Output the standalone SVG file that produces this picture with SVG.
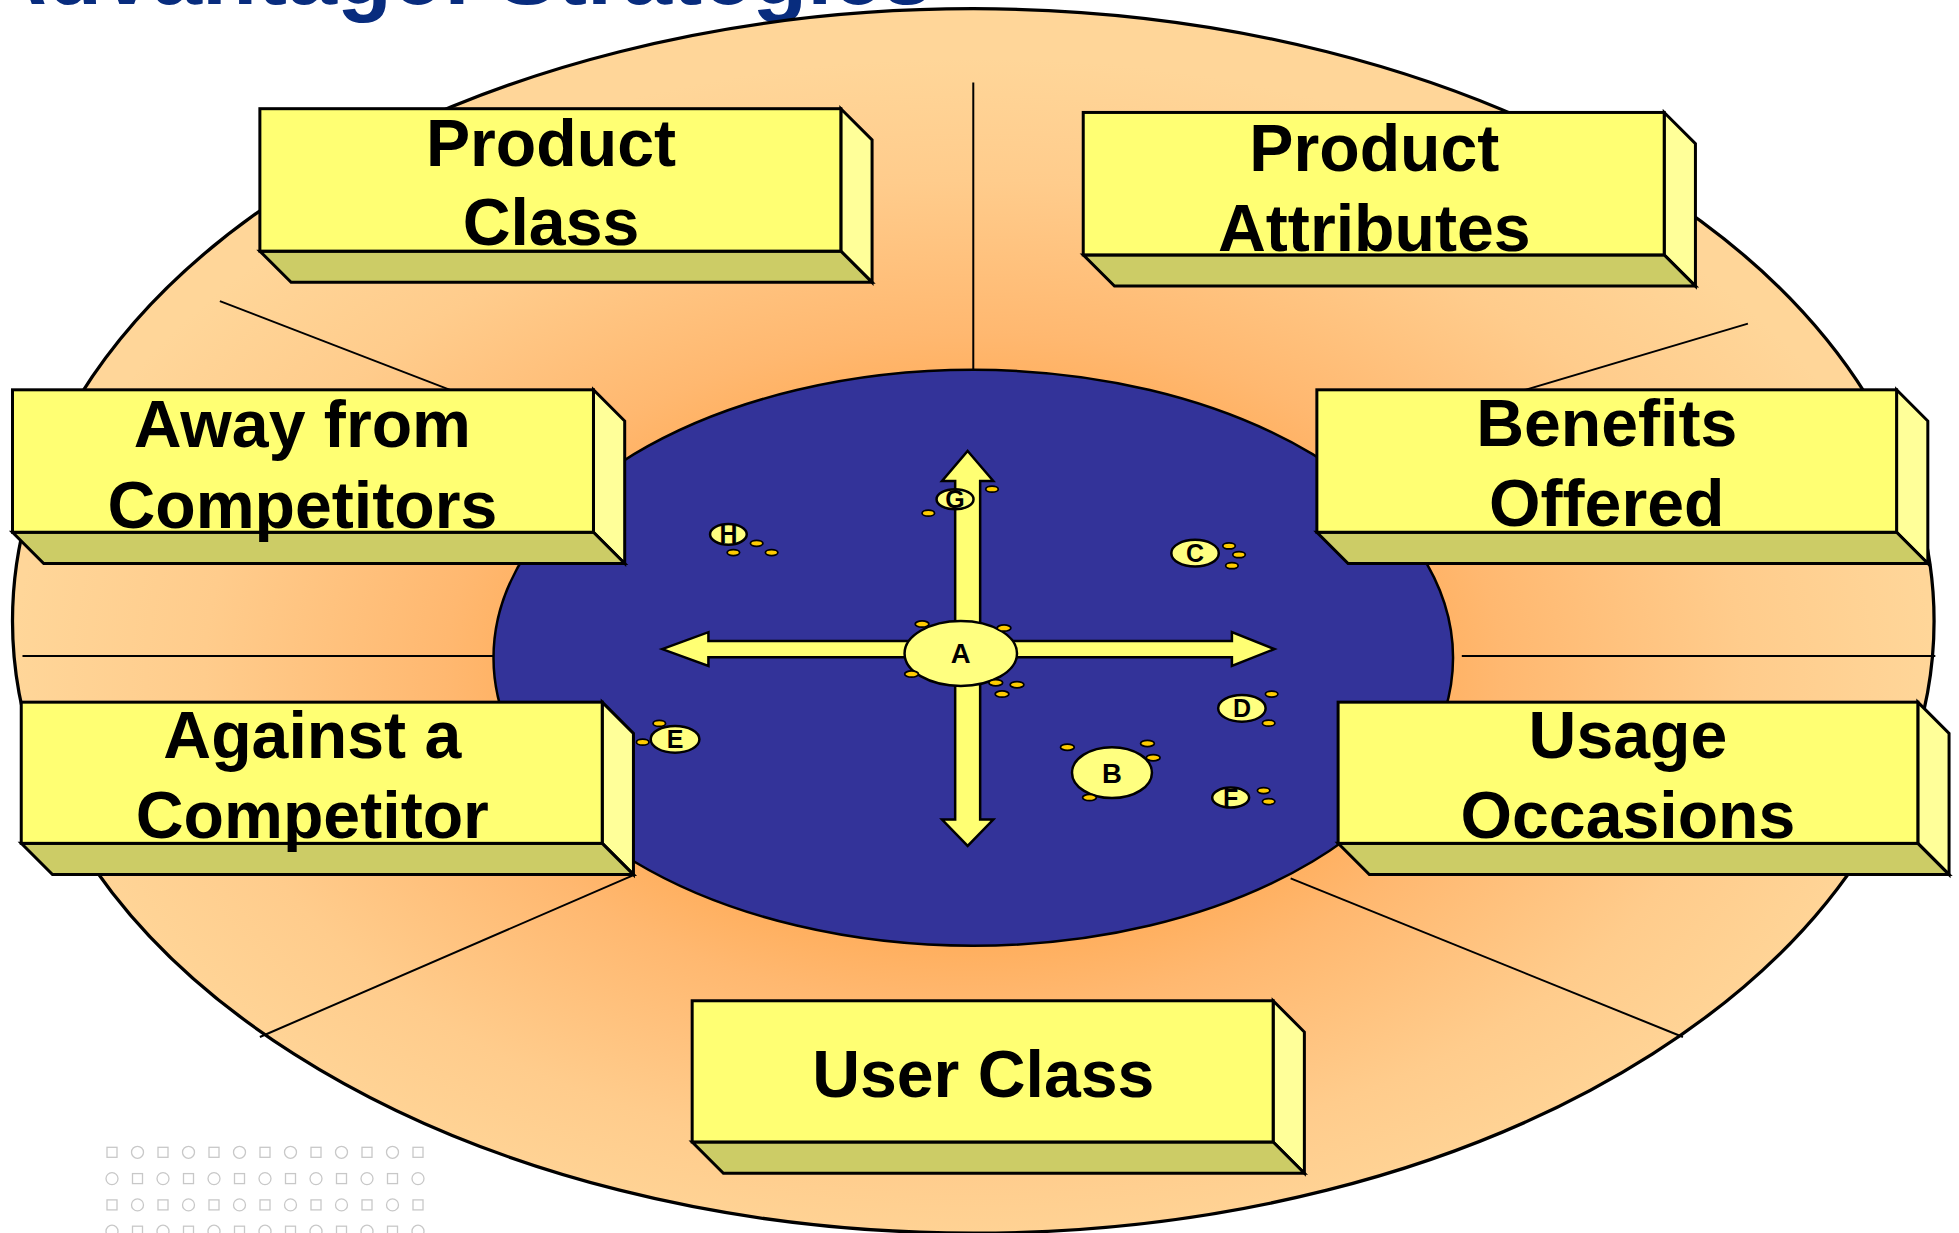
<svg xmlns="http://www.w3.org/2000/svg" width="1959" height="1233" viewBox="0 0 1959 1233">
<defs>
<radialGradient id="halo" cx="0.5" cy="0.54" r="0.5">
<stop offset="0.35" stop-color="#FFA64D"/>
<stop offset="0.55" stop-color="#FFB870"/>
<stop offset="0.8" stop-color="#FFCC8C"/>
<stop offset="1" stop-color="#FFD699"/>
</radialGradient>
<style>
.front{fill:#FFFF73;stroke:#000;stroke-width:2.4}
.side{fill:#FFFF99;stroke:#000;stroke-width:2.4;stroke-linejoin:miter}
.base{fill:#CCCC66;stroke:#000;stroke-width:2.4}
.lbl{font-family:"Liberation Sans",Arial,sans-serif;font-weight:bold;font-size:53px;fill:#000;text-anchor:middle}
.div{stroke:#000;stroke-width:1.6;fill:none}
.pt{fill:#FFFF80;stroke:#000;stroke-width:2}
.dot{fill:#FFCC00;stroke:#000;stroke-width:1.4}
.let{font-family:"Liberation Sans",Arial,sans-serif;font-weight:bold;font-size:20px;fill:#000;text-anchor:middle}
.big{font-size:22px}
.arw{fill:#FFFF73;stroke:#000;stroke-width:2;stroke-linejoin:miter}
.pat{fill:none;stroke:#C8C8C8;stroke-width:1.3}
</style>
</defs>
<rect x="0" y="0" width="1959" height="1233" fill="#FFFFFF"/>
<text x="-18" y="4" font-family="'Liberation Sans',Arial,sans-serif" font-weight="bold" font-size="90" fill="#082C7E">Advantage: Strategies</text>
<g id="pattern">
<rect class="pat" x="107" y="1147.3" width="10" height="10"/><circle class="pat" cx="137.5" cy="1152.3" r="6"/><rect class="pat" x="158" y="1147.3" width="10" height="10"/><circle class="pat" cx="188.5" cy="1152.3" r="6"/><rect class="pat" x="209" y="1147.3" width="10" height="10"/><circle class="pat" cx="239.5" cy="1152.3" r="6"/><rect class="pat" x="260" y="1147.3" width="10" height="10"/><circle class="pat" cx="290.5" cy="1152.3" r="6"/><rect class="pat" x="311" y="1147.3" width="10" height="10"/><circle class="pat" cx="341.5" cy="1152.3" r="6"/><rect class="pat" x="362" y="1147.3" width="10" height="10"/><circle class="pat" cx="392.5" cy="1152.3" r="6"/><rect class="pat" x="413" y="1147.3" width="10" height="10"/>
<circle class="pat" cx="112" cy="1178.6" r="6"/><rect class="pat" x="132.5" y="1173.6" width="10" height="10"/><circle class="pat" cx="163" cy="1178.6" r="6"/><rect class="pat" x="183.5" y="1173.6" width="10" height="10"/><circle class="pat" cx="214" cy="1178.6" r="6"/><rect class="pat" x="234.5" y="1173.6" width="10" height="10"/><circle class="pat" cx="265" cy="1178.6" r="6"/><rect class="pat" x="285.5" y="1173.6" width="10" height="10"/><circle class="pat" cx="316" cy="1178.6" r="6"/><rect class="pat" x="336.5" y="1173.6" width="10" height="10"/><circle class="pat" cx="367" cy="1178.6" r="6"/><rect class="pat" x="387.5" y="1173.6" width="10" height="10"/><circle class="pat" cx="418" cy="1178.6" r="6"/>
<rect class="pat" x="107" y="1199.9" width="10" height="10"/><circle class="pat" cx="137.5" cy="1204.9" r="6"/><rect class="pat" x="158" y="1199.9" width="10" height="10"/><circle class="pat" cx="188.5" cy="1204.9" r="6"/><rect class="pat" x="209" y="1199.9" width="10" height="10"/><circle class="pat" cx="239.5" cy="1204.9" r="6"/><rect class="pat" x="260" y="1199.9" width="10" height="10"/><circle class="pat" cx="290.5" cy="1204.9" r="6"/><rect class="pat" x="311" y="1199.9" width="10" height="10"/><circle class="pat" cx="341.5" cy="1204.9" r="6"/><rect class="pat" x="362" y="1199.9" width="10" height="10"/><circle class="pat" cx="392.5" cy="1204.9" r="6"/><rect class="pat" x="413" y="1199.9" width="10" height="10"/>
<circle class="pat" cx="112" cy="1231.2" r="6"/><rect class="pat" x="132.5" y="1226.2" width="10" height="10"/><circle class="pat" cx="163" cy="1231.2" r="6"/><rect class="pat" x="183.5" y="1226.2" width="10" height="10"/><circle class="pat" cx="214" cy="1231.2" r="6"/><rect class="pat" x="234.5" y="1226.2" width="10" height="10"/><circle class="pat" cx="265" cy="1231.2" r="6"/><rect class="pat" x="285.5" y="1226.2" width="10" height="10"/><circle class="pat" cx="316" cy="1231.2" r="6"/><rect class="pat" x="336.5" y="1226.2" width="10" height="10"/><circle class="pat" cx="367" cy="1231.2" r="6"/><rect class="pat" x="387.5" y="1226.2" width="10" height="10"/><circle class="pat" cx="418" cy="1231.2" r="6"/>
</g>
<g transform="scale(1.2494)">
<g id="outer-ring">
<ellipse cx="779" cy="497" rx="769" ry="490" fill="url(#halo)" stroke="#000" stroke-width="2.6"/>
</g>
<g id="connectors">
<line class="div" x1="779" y1="66" x2="779" y2="297"/>
<line class="div" x1="176" y1="241" x2="500" y2="366"/>
<line class="div" x1="1399" y1="259" x2="1100" y2="348"/>
<line class="div" x1="18" y1="525" x2="396" y2="525"/>
<line class="div" x1="1170" y1="525" x2="1549" y2="525"/>
<line class="div" x1="508" y1="700" x2="208" y2="830"/>
<line class="div" x1="1033" y1="703" x2="1347" y2="830"/>
</g>
<g id="core">
<ellipse cx="779" cy="526.5" rx="384" ry="230.5" fill="#333399" stroke="#000" stroke-width="2"/>
</g>
<g id="arrows">
<path class="arw" d="M530,519.5 L567,506 L567,513 L986,513 L986,506 L1020,519.5 L986,533 L986,526 L567,526 L567,533 Z"/>
<path class="arw" d="M774.5,361 L795,385 L784.5,385 L784.5,656 L795,656 L774.5,677 L754,656 L764.5,656 L764.5,385 L754,385 Z"/>
</g>
<g id="brand-A">
<ellipse class="pt" cx="769" cy="523" rx="45" ry="26"/>
<text class="let big" x="769" y="531">A</text>
<ellipse class="dot" cx="738" cy="499.5" rx="5.5" ry="2.5"/>
<ellipse class="dot" cx="803.6" cy="502.7" rx="5.5" ry="2.5"/>
<ellipse class="dot" cx="729.6" cy="539.5" rx="5.5" ry="2.5"/>
<ellipse class="dot" cx="797" cy="546.4" rx="5.5" ry="2.5"/>
<ellipse class="dot" cx="814" cy="548" rx="5.5" ry="2.5"/>
<ellipse class="dot" cx="802" cy="555.5" rx="5.5" ry="2.5"/>
</g>
<g id="brand-B">
<ellipse class="pt" cx="890" cy="618.4" rx="32" ry="20.4"/>
<text class="let big" x="890" y="626.4">B</text>
<ellipse class="dot" cx="854.3" cy="598" rx="5.5" ry="2.5"/>
<ellipse class="dot" cx="918.4" cy="595" rx="5.5" ry="2.5"/>
<ellipse class="dot" cx="923" cy="606.4" rx="5.5" ry="2.5"/>
<ellipse class="dot" cx="872" cy="638.4" rx="5.5" ry="2.5"/>
</g>
<g id="brand-C">
<ellipse class="pt" cx="956.5" cy="442.8" rx="19" ry="10.7"/>
<text class="let" x="956.5" y="450">C</text>
<ellipse class="dot" cx="983.7" cy="437" rx="5" ry="2.4"/>
<ellipse class="dot" cx="991.7" cy="444" rx="5" ry="2.4"/>
<ellipse class="dot" cx="986" cy="452.8" rx="5" ry="2.4"/>
</g>
<g id="brand-D">
<ellipse class="pt" cx="994" cy="566.9" rx="19" ry="10.7"/>
<text class="let" x="994" y="574.1">D</text>
<ellipse class="dot" cx="1017.8" cy="555.5" rx="5" ry="2.4"/>
<ellipse class="dot" cx="1015.4" cy="578.8" rx="5" ry="2.4"/>
</g>
<g id="brand-E">
<ellipse class="pt" cx="540.3" cy="591.7" rx="19.5" ry="10.7"/>
<text class="let" x="540.3" y="598.9">E</text>
<ellipse class="dot" cx="527.7" cy="579" rx="5" ry="2.4"/>
<ellipse class="dot" cx="514.4" cy="594" rx="5" ry="2.4"/>
</g>
<g id="brand-F">
<ellipse class="pt" cx="985" cy="638.4" rx="14.8" ry="8"/>
<text class="let" x="985" y="645.6">F</text>
<ellipse class="dot" cx="1011.4" cy="632.8" rx="5" ry="2.4"/>
<ellipse class="dot" cx="1015.4" cy="641.6" rx="5" ry="2.4"/>
</g>
<g id="brand-G">
<ellipse class="pt" cx="764.4" cy="399.6" rx="14.8" ry="8"/>
<text class="let" x="764.4" y="406.8">G</text>
<ellipse class="dot" cx="794" cy="391.5" rx="5" ry="2.4"/>
<ellipse class="dot" cx="743" cy="410.7" rx="5" ry="2.4"/>
</g>
<g id="brand-H">
<ellipse class="pt" cx="583" cy="427.7" rx="14.7" ry="8.3"/>
<text class="let" x="583" y="434.9">H</text>
<ellipse class="dot" cx="605.6" cy="434.9" rx="5" ry="2.4"/>
<ellipse class="dot" cx="587" cy="442.3" rx="5" ry="2.4"/>
<ellipse class="dot" cx="617.6" cy="442.3" rx="5" ry="2.4"/>
</g>
<g id="product-class">
<polygon class="side" points="673,87 698,112 698,226 673,201"/>
<polygon class="base" points="208,201 673,201 698,226 233,226"/>
<rect class="front" x="208" y="87" width="465" height="114"/>
<text class="lbl" x="441" y="133">Product</text>
<text class="lbl" x="441" y="196">Class</text>
</g>
<g id="product-attributes">
<polygon class="side" points="1332,90 1357,115 1357,229 1332,204"/>
<polygon class="base" points="867,204 1332,204 1357,229 892,229"/>
<rect class="front" x="867" y="90" width="465" height="114"/>
<text class="lbl" x="1100" y="137">Product</text>
<text class="lbl" x="1100" y="201">Attributes</text>
</g>
<g id="away-from-competitors">
<polygon class="side" points="475,312 500,337 500,451 475,426"/>
<polygon class="base" points="10,426 475,426 500,451 35,451"/>
<rect class="front" x="10" y="312" width="465" height="114"/>
<text class="lbl" x="242" y="358">Away from</text>
<text class="lbl" x="242" y="423">Competitors</text>
</g>
<g id="benefits-offered">
<polygon class="side" points="1518,312 1543,337 1543,451 1518,426"/>
<polygon class="base" points="1054,426 1518,426 1543,451 1079,451"/>
<rect class="front" x="1054" y="312" width="464" height="114"/>
<text class="lbl" x="1286" y="357">Benefits</text>
<text class="lbl" x="1286" y="421">Offered</text>
</g>
<g id="against-a-competitor">
<polygon class="side" points="482,562 507,587 507,700 482,675"/>
<polygon class="base" points="17,675 482,675 507,700 42,700"/>
<rect class="front" x="17" y="562" width="465" height="113"/>
<text class="lbl" x="250" y="607">Against a</text>
<text class="lbl" x="250" y="671">Competitor</text>
</g>
<g id="usage-occasions">
<polygon class="side" points="1535,562 1560,587 1560,700 1535,675"/>
<polygon class="base" points="1071,675 1535,675 1560,700 1096,700"/>
<rect class="front" x="1071" y="562" width="464" height="113"/>
<text class="lbl" x="1303" y="607">Usage</text>
<text class="lbl" x="1303" y="671">Occasions</text>
</g>
<g id="user-class">
<polygon class="side" points="1019,801 1044,826 1044,939 1019,914"/>
<polygon class="base" points="554,914 1019,914 1044,939 579,939"/>
<rect class="front" x="554" y="801" width="465" height="113"/>
<text class="lbl" x="787" y="878">User Class</text>
</g>
</g>
</svg>
